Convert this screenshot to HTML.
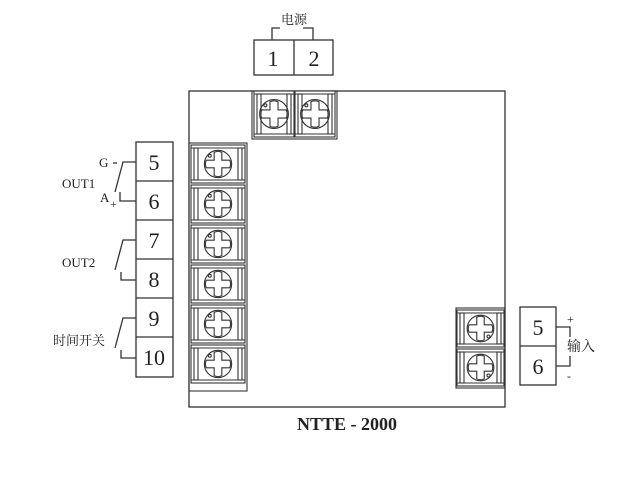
<!DOCTYPE html>
<html><head><meta charset="utf-8"><style>
html,body{margin:0;padding:0;background:#fff;width:640px;height:480px;overflow:hidden}
svg{display:block}
text{font-family:"Liberation Serif","Noto Serif CJK SC",serif;fill:#222}
</style></head><body>
<svg id="s" width="640" height="480" viewBox="0 0 640 480" xmlns="http://www.w3.org/2000/svg" stroke="#333" fill="none" stroke-width="1.3">
<rect x="189" y="91" width="316" height="316"/>
<rect x="254" y="40" width="79" height="35"/>
<line x1="294" y1="40" x2="294" y2="75"/>
<polyline points="272,40 272,28 280,28"/>
<polyline points="303,28 313,28 313,40"/>
<text x="294" y="24" font-size="13" text-anchor="middle" stroke="none">电源</text>
<text x="273" y="66" font-size="22" text-anchor="middle" stroke="none">1</text>
<text x="314" y="66" font-size="22" text-anchor="middle" stroke="none">2</text>
<rect x="136" y="142" width="37" height="235"/>
<g stroke-width="1.2">
<line x1="136" y1="181" x2="173" y2="181"/><line x1="136" y1="220" x2="173" y2="220"/>
<line x1="136" y1="259" x2="173" y2="259"/><line x1="136" y1="298" x2="173" y2="298"/>
<line x1="136" y1="337" x2="173" y2="337"/>
</g>
<g font-size="22" text-anchor="middle" stroke="none">
<text x="154" y="170" stroke="none">5</text><text x="154" y="209" stroke="none">6</text>
<text x="154" y="248" stroke="none">7</text><text x="154" y="287" stroke="none">8</text>
<text x="154" y="326" stroke="none">9</text><text x="154" y="365" stroke="none">10</text>
</g>
<polyline points="136,162 123,162 115,192"/><polyline points="120,192 120,201 136,201"/>
<polyline points="136,240 123,240 115,270"/><polyline points="121,272 121,280 136,280"/>
<polyline points="136,318 123,318 115,348"/><polyline points="121,350 121,358 136,358"/>
<line x1="113" y1="163" x2="117" y2="163"/>
<g stroke="none">
<text x="99" y="167" font-size="13" stroke="none">G</text>
<text x="100" y="202" font-size="13" stroke="none">A</text>
<text x="110" y="208" font-size="12" stroke="none">+</text>
<text x="62" y="188" stroke="none" font-size="13">OUT1</text>
<text x="62" y="267" stroke="none" font-size="13">OUT2</text>
<text x="53" y="345" stroke="none" font-size="13" font-family="Noto Sans CJK SC,sans-serif">时间开关</text>
</g>
<rect x="520" y="307" width="36" height="78"/>
<line x1="520" y1="346" x2="556" y2="346"/>
<text x="538" y="335" font-size="22" text-anchor="middle" stroke="none">5</text>
<text x="538" y="374" font-size="22" text-anchor="middle" stroke="none">6</text>
<polyline points="556,327 570,327 570,337"/>
<polyline points="556,366 570,366 570,356"/>
<text x="567" y="323" font-size="12" stroke="none">+</text>
<text x="567" y="380" font-size="12" stroke="none">-</text>
<text x="567" y="351" font-size="14" stroke="none" font-family="Noto Sans CJK SC,sans-serif">输入</text>
<g id="terms" stroke-width="1.1"></g>
<text x="347" y="430" font-size="18" font-weight="bold" text-anchor="middle" stroke="none" fill="#111">NTTE - 2000</text>
</svg>
<script>
var g=document.getElementById('terms'),h='';
function cell(x,y,w,hh,flip){
 var cx=x+w/2,cy=y+hh/2,r=Math.min(w,hh)*0.36;
 h+='<rect x="'+x+'" y="'+y+'" width="'+w+'" height="'+hh+'" fill="#fff"/>';
 h+='<line x1="'+x+'" y1="'+(y+3)+'" x2="'+(x+w)+'" y2="'+(y+3)+'"/>';
 h+='<line x1="'+x+'" y1="'+(y+hh-3)+'" x2="'+(x+w)+'" y2="'+(y+hh-3)+'"/>';
 h+='<rect x="'+(x+3)+'" y="'+(y+3)+'" width="4" height="'+(hh-6)+'"/>';
 h+='<rect x="'+(x+w-7)+'" y="'+(y+3)+'" width="4" height="'+(hh-6)+'"/>';
 h+='<circle cx="'+cx+'" cy="'+cy+'" r="'+r+'"/>';
 var a=r*0.28,b=r*0.85,c=r*0.5;
 h+='<path d="M'+(cx-a)+','+(cy-b)+' Q'+cx+','+(cy-b-2)+' '+(cx+a)+','+(cy-b)+' L'+(cx+a)+','+(cy-a)+' L'+(cx+b)+','+(cy-a)+' Q'+(cx+b+2)+','+cy+' '+(cx+b)+','+(cy+a)+' L'+(cx+a)+','+(cy+a)+' L'+(cx+a)+','+(cy+b)+' Q'+cx+','+(cy+b+2)+' '+(cx-a)+','+(cy+b)+' L'+(cx-a)+','+(cy+a)+' L'+(cx-b)+','+(cy+a)+' Q'+(cx-b-2)+','+cy+' '+(cx-b)+','+(cy-a)+' L'+(cx-a)+','+(cy-a)+'Z"/>';
 var d=flip?r*0.6:-r*0.6;
 h+='<circle cx="'+(cx+(flip?r*0.6:-r*0.6))+'" cy="'+(cy+d)+'" r="1.5"/>';
}
h+='<rect x="252" y="91" width="85" height="48"/>';
cell(254,91,40,46,false);cell(295,91,40,46,false);
h+='<rect x="189" y="143" width="58" height="248"/>';
for(var i=0;i<6;i++)cell(191,145+i*40,54,38,false);
h+='<rect x="456" y="308" width="49" height="80"/>';
cell(457,310,47,37,true);cell(457,349,47,37,true);
g.innerHTML=h;
</script>
</body></html>
